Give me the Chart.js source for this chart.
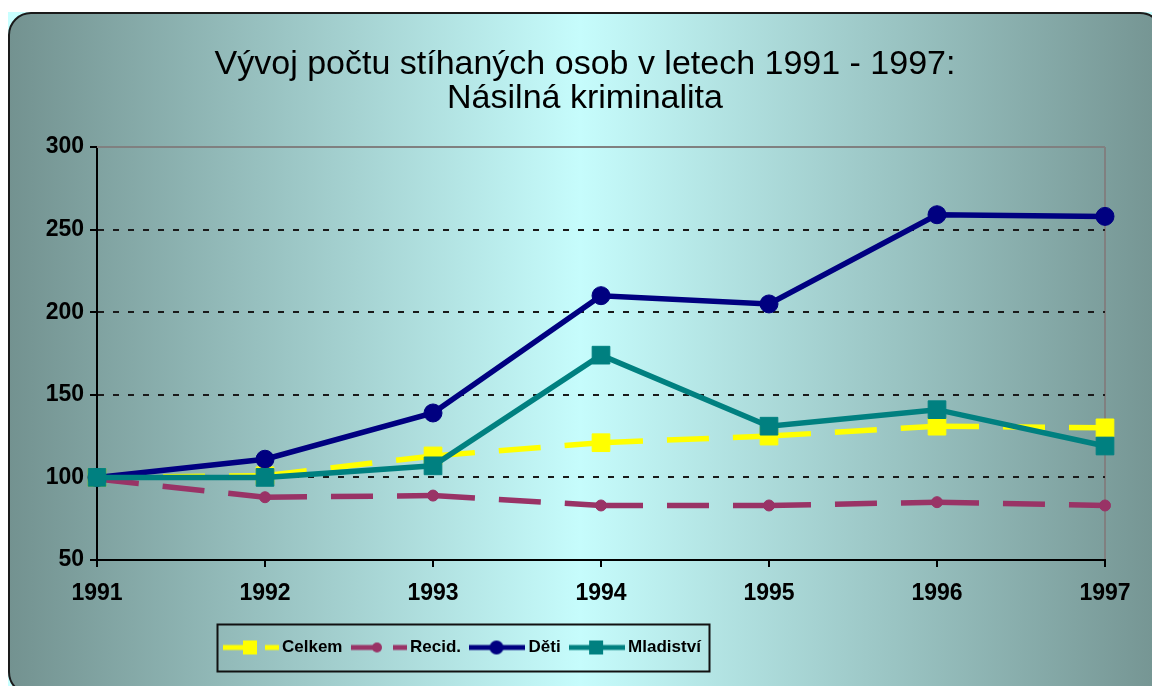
<!DOCTYPE html>
<html><head><meta charset="utf-8">
<script src="https://cdn.jsdelivr.net/npm/chart.js@4.4.1/dist/chart.umd.min.js"></script>
<style>html,body{margin:0;padding:0;background:#fff;overflow:hidden}</style>
</head><body>
<canvas id="c" width="1152" height="686"></canvas>
<script>
// ---- data ----
const years = ['1991', '1992', '1993', '1994', '1995', '1996', '1997'];
const celkem = [100, 101, 113, 121, 125, 131, 130];
const recid = [99, 88, 89, 83, 83, 85, 83];
const deti = [100, 111, 139, 210, 205, 259, 258];
const mladistvi = [100, 100, 107, 174, 131, 141, 119];
const yTicks = [50, 100, 150, 200, 250, 300];
const titleLines = ['Vývoj počtu stíhaných osob v letech 1991 - 1997:', 'Násilná kriminalita'];
const seriesNames = ['Celkem', 'Recid.', 'Děti', 'Mladiství'];
const seriesColors = ['#ffff00', '#993366', '#000080', '#008080'];

// ---- fonts ----
const SANS = '"Liberation Sans", Arial, Helvetica, sans-serif';
const legendFamily = SANS, legendSize = 17;

// ---- legend samples (line + marker) ----
function makeSample(i) {
  const c = document.createElement('canvas');
  c.width = 56; c.height = 22;
  const g = c.getContext('2d');
  const cy = 11, col = seriesColors[i];
  g.strokeStyle = col; g.fillStyle = col; g.lineWidth = 5; g.lineCap = 'butt';
  g.beginPath();
  if (i < 2) { g.moveTo(0, cy); g.lineTo(26, cy); g.moveTo(42, cy); g.lineTo(56, cy); }
  else { g.moveTo(0, cy); g.lineTo(56, cy); }
  g.stroke();
  if (i === 0 || i === 3) { g.fillRect(20, cy - 7, 14, 14); }
  else if (i === 1) { g.beginPath(); g.arc(26, cy, 5, 0, Math.PI * 2); g.fill(); }
  else { g.beginPath(); g.arc(27, cy, 7, 0, Math.PI * 2); g.fill(); }
  return c;
}
const samples = [0, 1, 2, 3].map(makeSample);

const LEG_PAD = 14;
const PSW = 62 - legendSize;      // pointStyleWidth so text sits just after the sample
const PAD_BOTTOM = 20;
const legendHeight = legendSize + LEG_PAD + 10;
const xAxisHeight = 686 - 560 - PAD_BOTTOM - legendHeight;

const segDash = { borderDashOffset: ctx => ctx.p0DataIndex * 0.001 };

const bgPlugin = {
  id: 'bg',
  beforeDraw(chart) {
    const ctx = chart.ctx, W = chart.width, H = chart.height;
    ctx.save();
    ctx.fillStyle = '#ffffff'; ctx.fillRect(0, 0, W, H);
    ctx.fillStyle = '#c8ffff'; ctx.fillRect(8, 12, W - 8, H - 12);
    const gr = ctx.createLinearGradient(9, 0, 1152, 0);
    gr.addColorStop(0, '#739290');
    gr.addColorStop(0.5, '#c6fcfc');
    gr.addColorStop(1, '#769694');
    const x = 9, y = 13, w = 1162 - 9, h = 694 - 13, r = 22;
    ctx.beginPath();
    ctx.moveTo(x + r, y); ctx.lineTo(x + w - r, y); ctx.arcTo(x + w, y, x + w, y + r, r);
    ctx.lineTo(x + w, y + h - r); ctx.arcTo(x + w, y + h, x + w - r, y + h, r);
    ctx.lineTo(x + r, y + h); ctx.arcTo(x, y + h, x, y + h - r, r);
    ctx.lineTo(x, y + r); ctx.arcTo(x, y, x + r, y, r); ctx.closePath();
    ctx.fillStyle = gr; ctx.fill();
    ctx.lineWidth = 2; ctx.strokeStyle = '#1a1a1a'; ctx.stroke();
    ctx.restore();
    // place title and legend like the reference
    const tb = chart.titleBlock;
    if (tb) { tb.left = 65; }
    const lg = chart.legend;
    if (lg) {
      const left = 223 + (28 - PSW / 2) - LEG_PAD;
      const wdt = lg.right - lg.left;
      lg.left = left; lg.right = left + wdt;
    }
  },
  beforeDatasetsDraw(chart) {
    const ctx = chart.ctx, a = chart.chartArea;
    ctx.save();
    ctx.strokeStyle = '#808080'; ctx.lineWidth = 2;
    ctx.beginPath(); ctx.moveTo(a.left, a.top); ctx.lineTo(a.right, a.top); ctx.stroke();
    ctx.restore();
  },
  afterDraw(chart) {
    const lg = chart.legend;
    if (!lg || !lg.lineWidths) return;
    const ctx = chart.ctx;
    const x1 = lg.left + LEG_PAD + PSW / 2 - 28 - 6;
    const x2 = lg.left + lg.lineWidths[0] + 8;
    const cy = lg.top + LEG_PAD + legendSize / 2;
    ctx.save();
    ctx.strokeStyle = '#111'; ctx.lineWidth = 2;
    ctx.strokeRect(Math.round(x1) + 0.5, Math.round(cy - 23.5) + 0.5, Math.round(x2 - x1), 47);
    ctx.restore();
  }
};

new Chart(document.getElementById('c'), {
  type: 'line',
  data: {
    labels: years,
    datasets: [
      { label: seriesNames[0], data: celkem, borderColor: seriesColors[0], backgroundColor: seriesColors[0],
        borderWidth: 5.5, borderDash: [42, 24], borderCapStyle: 'butt', segment: segDash,
        pointStyle: 'rect', pointRadius: 12.5, pointBorderWidth: 1, pointBackgroundColor: seriesColors[0], pointBorderColor: seriesColors[0], order: 4 },
      { label: seriesNames[1], data: recid, borderColor: seriesColors[1], backgroundColor: seriesColors[1],
        borderWidth: 5.5, borderDash: [42, 24], borderCapStyle: 'butt', segment: segDash,
        pointStyle: 'circle', pointRadius: 5.5, pointBorderWidth: 1, pointBackgroundColor: seriesColors[1], pointBorderColor: seriesColors[1], order: 3 },
      { label: seriesNames[2], data: deti, borderColor: seriesColors[2], backgroundColor: seriesColors[2],
        borderWidth: 5.5,
        pointStyle: 'circle', pointRadius: 9, pointBorderWidth: 1, pointBackgroundColor: seriesColors[2], pointBorderColor: seriesColors[2], order: 2 },
      { label: seriesNames[3], data: mladistvi, borderColor: seriesColors[3], backgroundColor: seriesColors[3],
        borderWidth: 5.5,
        pointStyle: 'rect', pointRadius: 12.5, pointBorderWidth: 1, pointBackgroundColor: seriesColors[3], pointBorderColor: seriesColors[3], order: 1 }
    ]
  },
  options: {
    responsive: false,
    animation: false,
    devicePixelRatio: 1,
    clip: false,
    layout: { padding: { left: 0, right: 47, top: 0, bottom: PAD_BOTTOM } },
    elements: { line: { tension: 0 } },
    plugins: {
      tooltip: { enabled: false },
      title: {
        display: true, text: titleLines, color: '#000',
        font: { family: SANS, size: 34, weight: 'normal', lineHeight: 34 / 34 },
        padding: { top: 47.5, bottom: 31.5 }
      },
      legend: {
        display: true, position: 'bottom', align: 'start',
        labels: {
          usePointStyle: true, pointStyleWidth: PSW, padding: LEG_PAD, color: '#000',
          font: { family: legendFamily, size: legendSize, weight: 'bold' },
          generateLabels: chart => chart.data.datasets.map((ds, i) => ({
            text: ds.label, pointStyle: samples[i], datasetIndex: i, hidden: false,
            lineWidth: 0, fillStyle: ds.borderColor, strokeStyle: ds.borderColor, fontColor: '#000'
          }))
        }
      }
    },
    scales: {
      x: {
        type: 'category', offset: false,
        afterFit: s => { s.height = xAxisHeight; },
        border: { display: true, color: '#000', width: 2 },
        grid: {
          drawOnChartArea: true, drawTicks: true, tickLength: 7, tickWidth: 2, tickColor: '#000', lineWidth: 2,
          color: c => (c.index === years.length - 1 ? '#808080' : 'rgba(0,0,0,0)')
        },
        ticks: { color: '#000', padding: 13, maxRotation: 0, autoSkip: false, font: { family: SANS, size: 23, weight: 'bold' } }
      },
      y: {
        min: yTicks[0], max: yTicks[yTicks.length - 1],
        afterFit: s => { s.width = 97; },
        afterBuildTicks: s => { s.ticks = yTicks.map(v => ({ value: v })); },
        border: { display: true, color: '#000', width: 2, dash: [6, 9] },
        grid: {
          drawTicks: true, tickLength: 7, tickWidth: 2, tickColor: '#000', lineWidth: 2,
          color: c => (c.tick && (c.tick.value === yTicks[0] || c.tick.value === yTicks[yTicks.length - 1]) ? 'rgba(0,0,0,0)' : '#1a1a1a')
        },
        ticks: { color: '#000', padding: 6, font: { family: SANS, size: 23, weight: 'bold' } }
      }
    }
  },
  plugins: [bgPlugin]
});
</script>
</body></html>
